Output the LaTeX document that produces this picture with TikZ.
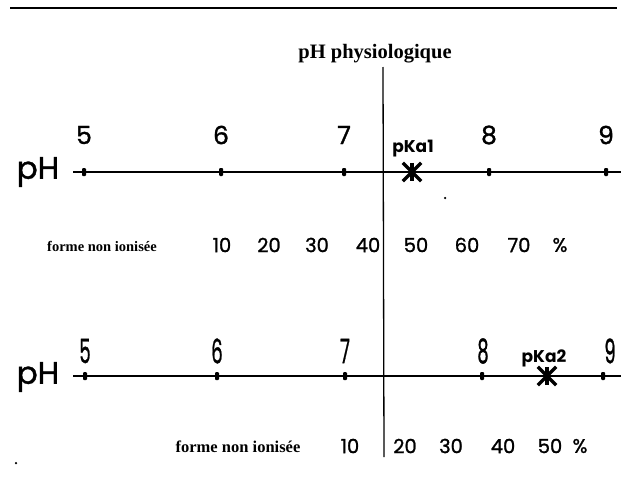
\documentclass[tikz,border=0pt]{standalone}
\usepackage{graphicx}
\usepackage{fontspec}
\setmainfont{Liberation Serif}
\newfontfamily\gothic[FakeBold=1.2]{Poppins}
\newfontfamily\gothicbold{Poppins}
\usetikzlibrary{positioning}

\tikzset{
  axisline/.style={line width=1.5pt},
  tickmark/.style={fill, inner sep=0pt, minimum width=4pt, minimum height=8pt, rounded corners=1pt},
  phlabel/.style={font=\gothic\fontsize{31}{31}\selectfont},
  phnum/.style={font=\gothic\fontsize{25}{25}\selectfont},
  phtall/.style={font=\gothic\fontsize{25}{25}\selectfont},
  pkalabel/.style={font=\gothicbold\bfseries\fontsize{17}{17}\selectfont},
  pctnum/.style={font=\gothic\fontsize{19.5}{19.5}\selectfont},
  formetext/.style={font=\bfseries\fontsize{#1}{#1}\selectfont},
  speck/.style={fill, circle, inner sep=0pt, minimum size=2.5pt}
}

\begin{document}
\begin{tikzpicture}[x=1pt, y=-1pt, every node/.style={inner sep=0pt}]
\useasboundingbox (0,0) rectangle (621,479);

% rule at the top
\coordinate (ruleL) at (10,8);
\coordinate (ruleR) at (617,8);
\draw[line width=2pt] (ruleL) -- (ruleR);

% physiological pH
\node[formetext=20.5] (physio) at (375,54) {pH physiologique};
\coordinate (physTop) at (383,67);
\coordinate (physBot) at (384,457);
\draw[line width=1.3pt] (physTop) -- (physBot);

% first scale (pKa1)
\node[phlabel] (pHa) at (38,172) {pH};
\coordinate (axAstart) at (73,172);
\coordinate (axAend) at (621,172);
\draw[axisline] (axAstart) -- (axAend);
\foreach \x/\n in {84/5, 221/6, 344/7, 489/8, 606/9} {
  \node[tickmark] (ta\n) at (\x,172) {};
  \node[phnum] (na\n) at (\x,135) {\n};
}
\node[inner sep=0pt, minimum size=18pt] (pka1) at (412,172) {};
\draw[line width=3.2pt] (pka1.north) -- (pka1.south);
\draw[line width=3.2pt] (pka1.north east) -- (pka1.south west);
\draw[line width=3.2pt] (pka1.north west) -- (pka1.south east);
\node[pkalabel] (pka1lab) at (413,149) {pKa1};
\node[speck] (speckA) at (445,198) {};

\node[formetext=14.5] (formeA) at (102,246) {forme non ionisée};
\foreach \x/\p in {222/10, 269/20, 317/30, 368/40, 416/50, 467/60, 519/70}
  \node[pctnum] (pa\p) at (\x,245) {\p};
\node[pctnum] (paPct) at (560,245) {\%};

% second scale (pKa2)
\node[phlabel] (pHb) at (38,377) {pH};
\coordinate (axBstart) at (73,376);
\coordinate (axBend) at (621,376);
\draw[axisline] (axBstart) -- (axBend);
\foreach \x/\n in {85/5, 217/6, 345/7, 482/8, 603/9}
  \node[tickmark] (tb\n) at (\x,376) {};
\foreach \x/\n in {85/5, 217/6, 345/7, 483/8, 610/9}
  \node[phtall] (nb\n) at (\x,351) {\scalebox{0.72}[1.35]{\n}};
\node[inner sep=0pt, minimum size=18pt] (pka2) at (547,376) {};
\draw[line width=3.2pt] (pka2.north) -- (pka2.south);
\draw[line width=3.2pt] (pka2.north east) -- (pka2.south west);
\draw[line width=3.2pt] (pka2.north west) -- (pka2.south east);
\node[pkalabel] (pka2lab) at (544,358) {pKa2};

\node[formetext=16.5] (formeB) at (238,447) {forme non ionisée};
\foreach \x/\p in {350/10, 405/20, 451/30, 503/40, 550/50}
  \node[pctnum] (pb\p) at (\x,446) {\p};
\node[pctnum] (pbPct) at (580,446) {\%};
\node[speck] (speckB) at (16,463) {};
\end{tikzpicture}
\end{document}
